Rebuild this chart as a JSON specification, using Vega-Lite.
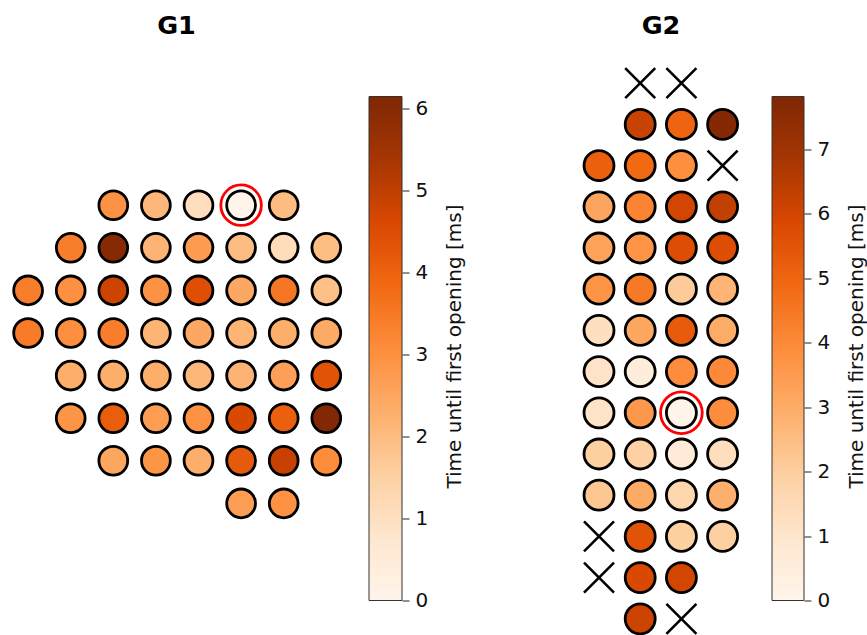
{
  "$schema": "https://vega.github.io/schema/vega-lite/v6.json",
  "padding": {"left": 0, "top": 13.5, "right": 0, "bottom": 0},
  "background": "white",
  "config": {"view": {"stroke": null}, "font": "DejaVu Sans"},
  "datasets": {
    "g1": [
      {"r":0,"c":2,"t":2.95,"s":"ok"},{"r":0,"c":3,"t":2.1,"s":"ok"},{"r":0,"c":4,"t":1.05,"s":"ok"},{"r":0,"c":5,"t":0.05,"s":"ref"},{"r":0,"c":6,"t":2.0,"s":"ok"},
      {"r":1,"c":1,"t":3.4,"s":"ok"},{"r":1,"c":2,"t":6.0,"s":"ok"},{"r":1,"c":3,"t":2.2,"s":"ok"},{"r":1,"c":4,"t":2.75,"s":"ok"},{"r":1,"c":5,"t":2.0,"s":"ok"},{"r":1,"c":6,"t":1.1,"s":"ok"},{"r":1,"c":7,"t":1.95,"s":"ok"},
      {"r":2,"c":0,"t":3.4,"s":"ok"},{"r":2,"c":1,"t":3.0,"s":"ok"},{"r":2,"c":2,"t":4.8,"s":"ok"},{"r":2,"c":3,"t":2.95,"s":"ok"},{"r":2,"c":4,"t":4.45,"s":"ok"},{"r":2,"c":5,"t":2.45,"s":"ok"},{"r":2,"c":6,"t":3.55,"s":"ok"},{"r":2,"c":7,"t":1.9,"s":"ok"},
      {"r":3,"c":0,"t":3.45,"s":"ok"},{"r":3,"c":1,"t":3.05,"s":"ok"},{"r":3,"c":2,"t":3.4,"s":"ok"},{"r":3,"c":3,"t":2.15,"s":"ok"},{"r":3,"c":4,"t":2.45,"s":"ok"},{"r":3,"c":5,"t":2.15,"s":"ok"},{"r":3,"c":6,"t":2.3,"s":"ok"},{"r":3,"c":7,"t":2.4,"s":"ok"},
      {"r":4,"c":1,"t":2.3,"s":"ok"},{"r":4,"c":2,"t":2.3,"s":"ok"},{"r":4,"c":3,"t":2.3,"s":"ok"},{"r":4,"c":4,"t":2.1,"s":"ok"},{"r":4,"c":5,"t":2.2,"s":"ok"},{"r":4,"c":6,"t":2.65,"s":"ok"},{"r":4,"c":7,"t":4.35,"s":"ok"},
      {"r":5,"c":1,"t":2.9,"s":"ok"},{"r":5,"c":2,"t":4.1,"s":"ok"},{"r":5,"c":3,"t":2.7,"s":"ok"},{"r":5,"c":4,"t":2.95,"s":"ok"},{"r":5,"c":5,"t":4.6,"s":"ok"},{"r":5,"c":6,"t":4.05,"s":"ok"},{"r":5,"c":7,"t":6.1,"s":"ok"},
      {"r":6,"c":2,"t":2.5,"s":"ok"},{"r":6,"c":3,"t":2.9,"s":"ok"},{"r":6,"c":4,"t":2.3,"s":"ok"},{"r":6,"c":5,"t":4.2,"s":"ok"},{"r":6,"c":6,"t":4.9,"s":"ok"},{"r":6,"c":7,"t":3.1,"s":"ok"},
      {"r":7,"c":5,"t":2.7,"s":"ok"},{"r":7,"c":6,"t":2.95,"s":"ok"}
    ],
    "g2": [
      {"r":0,"c":1,"t":null,"s":"x"},{"r":0,"c":2,"t":null,"s":"x"},
      {"r":1,"c":1,"t":6.2,"s":"ok"},{"r":1,"c":2,"t":5.0,"s":"ok"},{"r":1,"c":3,"t":7.7,"s":"ok"},
      {"r":2,"c":0,"t":5.15,"s":"ok"},{"r":2,"c":1,"t":4.9,"s":"ok"},{"r":2,"c":2,"t":3.85,"s":"ok"},{"r":2,"c":3,"t":null,"s":"x"},
      {"r":3,"c":0,"t":3.2,"s":"ok"},{"r":3,"c":1,"t":4.15,"s":"ok"},{"r":3,"c":2,"t":6.0,"s":"ok"},{"r":3,"c":3,"t":6.3,"s":"ok"},
      {"r":4,"c":0,"t":3.3,"s":"ok"},{"r":4,"c":1,"t":3.7,"s":"ok"},{"r":4,"c":2,"t":5.7,"s":"ok"},{"r":4,"c":3,"t":5.7,"s":"ok"},
      {"r":5,"c":0,"t":3.7,"s":"ok"},{"r":5,"c":1,"t":4.45,"s":"ok"},{"r":5,"c":2,"t":2.1,"s":"ok"},{"r":5,"c":3,"t":2.75,"s":"ok"},
      {"r":6,"c":0,"t":1.3,"s":"ok"},{"r":6,"c":1,"t":3.15,"s":"ok"},{"r":6,"c":2,"t":5.3,"s":"ok"},{"r":6,"c":3,"t":3.0,"s":"ok"},
      {"r":7,"c":0,"t":1.1,"s":"ok"},{"r":7,"c":1,"t":0.55,"s":"ok"},{"r":7,"c":2,"t":3.9,"s":"ok"},{"r":7,"c":3,"t":4.0,"s":"ok"},
      {"r":8,"c":0,"t":1.1,"s":"ok"},{"r":8,"c":1,"t":3.6,"s":"ok"},{"r":8,"c":2,"t":0.08,"s":"ref"},{"r":8,"c":3,"t":3.9,"s":"ok"},
      {"r":9,"c":0,"t":1.95,"s":"ok"},{"r":9,"c":1,"t":1.9,"s":"ok"},{"r":9,"c":2,"t":0.7,"s":"ok"},{"r":9,"c":3,"t":1.35,"s":"ok"},
      {"r":10,"c":0,"t":2.2,"s":"ok"},{"r":10,"c":1,"t":3.05,"s":"ok"},{"r":10,"c":2,"t":1.7,"s":"ok"},{"r":10,"c":3,"t":2.9,"s":"ok"},
      {"r":11,"c":0,"t":null,"s":"x"},{"r":11,"c":1,"t":5.55,"s":"ok"},{"r":11,"c":2,"t":1.95,"s":"ok"},{"r":11,"c":3,"t":1.95,"s":"ok"},
      {"r":12,"c":0,"t":null,"s":"x"},{"r":12,"c":1,"t":5.85,"s":"ok"},{"r":12,"c":2,"t":6.0,"s":"ok"},
      {"r":13,"c":1,"t":6.1,"s":"ok"},{"r":13,"c":2,"t":null,"s":"x"}
    ],
    "bar1": [{"lo":0,"hi":6.15}],
    "bar2": [{"lo":0,"hi":7.82}]
  },
  "resolve": {"scale": {"color": "independent", "x": "independent", "y": "independent"}},
  "bounds": "flush",
  "spacing": 0,
  "hconcat": [
    {
      "width": 369, "height": 575,
      "title": {"text": "G1", "fontSize": 25.5, "fontWeight": "bold", "font": "DejaVu Sans", "color": "#000", "dx": -8, "offset": 19},
      "data": {"name": "g1"},
      "encoding": {
        "x": {"field": "c", "type": "quantitative", "axis": null, "scale": {"domain": [-0.6596, 8.0023], "nice": false, "zero": false}},
        "y": {"field": "r", "type": "quantitative", "axis": null, "scale": {"domain": [-3.4437, 10.054], "nice": false, "zero": false, "reverse": true}}
      },
      "layer": [
        {
          "mark": {"type": "circle", "size": 830, "stroke": "#000", "strokeWidth": 2.8, "opacity": 1},
          "encoding": {"color": {"field": "t", "type": "quantitative", "legend": null,
            "scale": {"domain": [0, 0.76875, 1.5375, 2.30625, 3.075, 3.84375, 4.6125, 5.38125, 6.15],
                      "range": ["#fff5eb", "#fee6ce", "#fdd0a2", "#fdae6b", "#fd8d3c", "#f16913", "#d94801", "#a63603", "#7f2704"],
                      "interpolate": "rgb"}}}
        },
        {
          "transform": [{"filter": "datum.s === 'ref'"}],
          "mark": {"type": "point", "shape": "circle", "size": 1640, "filled": false, "color": "#ff0000", "strokeWidth": 2.8, "opacity": 1}
        }
      ]
    },
    {
      "width": 33, "height": 575,
      "data": {"name": "bar1"},
      "mark": {"type": "rect", "stroke": "#333", "strokeWidth": 1,
        "fill": {"gradient": "linear", "x1": 0, "y1": 1, "x2": 0, "y2": 0,
          "stops": [
            {"offset": 0, "color": "#fff5eb"}, {"offset": 0.125, "color": "#fee6ce"}, {"offset": 0.25, "color": "#fdd0a2"},
            {"offset": 0.375, "color": "#fdae6b"}, {"offset": 0.5, "color": "#fd8d3c"}, {"offset": 0.625, "color": "#f16913"},
            {"offset": 0.75, "color": "#d94801"}, {"offset": 0.875, "color": "#a63603"}, {"offset": 1, "color": "#7f2704"}]}},
      "encoding": {
        "y": {"field": "lo", "type": "quantitative", "scale": {"domain": [-0.4027, 6.6137], "nice": false, "zero": false},
          "axis": {"orient": "right", "values": [0,1,2,3,4,5,6], "domain": false, "grid": false, "tickSize": 7, "tickColor": "#222", "tickWidth": 1,
            "labelFontSize": 20, "labelFont": "DejaVu Sans", "labelColor": "#111", "labelPadding": 6,
            "title": "Time until first opening [ms]", "titleFontSize": 20, "titleFont": "DejaVu Sans", "titleFontWeight": "normal", "titleColor": "#111",
            "titleAngle": 270, "titlePadding": 37}},
        "y2": {"field": "hi"}
      }
    },
    {
      "width": 370, "height": 575,
      "title": {"text": "G2", "fontSize": 25.5, "fontWeight": "bold", "font": "DejaVu Sans", "color": "#000", "dx": 74, "offset": 19},
      "data": {"name": "g2"},
      "encoding": {
        "x": {"field": "c", "type": "quantitative", "axis": null, "scale": {"domain": [-4.7816, 4.199], "nice": false, "zero": false}},
        "y": {"field": "r", "type": "quantitative", "axis": null, "scale": {"domain": [-0.5995, 13.3568], "nice": false, "zero": false, "reverse": true}}
      },
      "layer": [
        {
          "transform": [{"filter": "datum.s !== 'x'"}],
          "mark": {"type": "circle", "size": 900, "stroke": "#000", "strokeWidth": 2.8, "opacity": 1},
          "encoding": {"color": {"field": "t", "type": "quantitative", "legend": null,
            "scale": {"domain": [0, 0.9775, 1.955, 2.9325, 3.91, 4.8875, 5.865, 6.8425, 7.82],
                      "range": ["#fff5eb", "#fee6ce", "#fdd0a2", "#fdae6b", "#fd8d3c", "#f16913", "#d94801", "#a63603", "#7f2704"],
                      "interpolate": "rgb"}}}
        },
        {
          "transform": [{"filter": "datum.s === 'ref'"}],
          "mark": {"type": "point", "shape": "circle", "size": 1740, "filled": false, "color": "#ff0000", "strokeWidth": 2.8, "opacity": 1}
        },
        {
          "transform": [{"filter": "datum.s === 'x'"}],
          "mark": {"type": "point", "shape": "M-1,-1L1,1M-1,1L1,-1", "size": 900, "filled": false, "color": "#000", "strokeWidth": 2.6, "opacity": 1}
        }
      ]
    },
    {
      "width": 32, "height": 575,
      "data": {"name": "bar2"},
      "mark": {"type": "rect", "stroke": "#333", "strokeWidth": 1,
        "fill": {"gradient": "linear", "x1": 0, "y1": 1, "x2": 0, "y2": 0,
          "stops": [
            {"offset": 0, "color": "#fff5eb"}, {"offset": 0.125, "color": "#fee6ce"}, {"offset": 0.25, "color": "#fdd0a2"},
            {"offset": 0.375, "color": "#fdae6b"}, {"offset": 0.5, "color": "#fd8d3c"}, {"offset": 0.625, "color": "#f16913"},
            {"offset": 0.75, "color": "#d94801"}, {"offset": 0.875, "color": "#a63603"}, {"offset": 1, "color": "#7f2704"}]}},
      "encoding": {
        "y": {"field": "lo", "type": "quantitative", "scale": {"domain": [-0.512, 8.4096], "nice": false, "zero": false},
          "axis": {"orient": "right", "values": [0,1,2,3,4,5,6,7], "domain": false, "grid": false, "tickSize": 7, "tickColor": "#222", "tickWidth": 1,
            "labelFontSize": 20, "labelFont": "DejaVu Sans", "labelColor": "#111", "labelPadding": 6,
            "title": "Time until first opening [ms]", "titleFontSize": 20, "titleFont": "DejaVu Sans", "titleFontWeight": "normal", "titleColor": "#111",
            "titleAngle": 270, "titlePadding": 37}},
        "y2": {"field": "hi"}
      }
    }
  ]
}
